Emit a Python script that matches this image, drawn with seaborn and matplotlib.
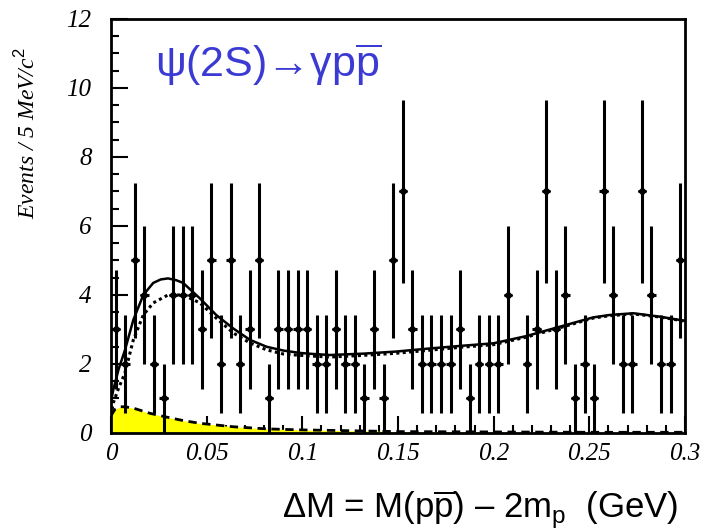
import numpy as np
import pandas as pd
import matplotlib
matplotlib.use("Agg")
import matplotlib.pyplot as plt
import seaborn as sns

# ---- data ----
bin_width = 0.005
counts = [3, 2, 5, 4, 2, 1, 4, 4, 4, 3,
          5, 2, 5, 2, 3, 5, 1, 3, 3, 3,
          3, 2, 2, 3, 2, 2, 1, 3, 1, 5,
          7, 3, 2, 2, 2, 2, 3, 1, 2, 2,
          2, 4, 0, 2, 3, 7, 3, 4, 1, 2,
          1, 7, 4, 2, 2, 7, 4, 2, 2, 5]

total_x = [0.0, 0.0012, 0.004, 0.0073, 0.0117, 0.0169, 0.0221, 0.026, 0.0298, 0.034,
           0.0377, 0.0465, 0.055, 0.0639, 0.0726, 0.0813, 0.090, 0.0988, 0.1057, 0.1144,
           0.132, 0.149, 0.1667, 0.184, 0.2, 0.2172, 0.2346, 0.252, 0.2607, 0.273, 0.287, 0.3]
total_y = [0.9, 1.25, 1.85, 2.4, 3.28, 4.0, 4.35, 4.45, 4.48, 4.43,
           4.35, 3.9, 3.42, 3.03, 2.7, 2.5, 2.39, 2.32, 2.29, 2.26,
           2.3, 2.36, 2.45, 2.53, 2.6, 2.81, 3.08, 3.35, 3.42, 3.47, 3.37, 3.25]

signal_x = [0.0, 0.0012, 0.004, 0.0073, 0.0117, 0.0169, 0.0221, 0.0298, 0.0377, 0.0465,
            0.055, 0.0639, 0.0726, 0.0813, 0.090, 0.0988, 0.1144, 0.132, 0.149, 0.1667,
            0.184, 0.2, 0.2172, 0.2346, 0.252, 0.2607, 0.273, 0.287, 0.3]
signal_y = [0.5, 0.87, 1.3, 1.74, 2.7, 3.42, 3.77, 4.0, 4.0, 3.77,
            3.33, 2.9, 2.61, 2.41, 2.29, 2.25, 2.2, 2.25, 2.31, 2.4,
            2.49, 2.56, 2.78, 3.05, 3.33, 3.4, 3.45, 3.36, 3.24]

bkg_x = [0.0, 0.002, 0.005, 0.0073, 0.0117, 0.0204, 0.0291, 0.0377, 0.0465, 0.064,
         0.081, 0.099, 0.12, 0.15, 0.2, 0.25, 0.3]
bkg_y = [0.5, 0.68, 0.76, 0.76, 0.72, 0.57, 0.46, 0.36, 0.28, 0.18,
         0.12, 0.09, 0.07, 0.04, 0.03, 0.02, 0.02]

x_ticks = [0, 0.05, 0.1, 0.15, 0.2, 0.25, 0.3]
x_tick_labels = ["0", "0.05", "0.1", "0.15", "0.2", "0.25", "0.3"]
y_ticks = [0, 2, 4, 6, 8, 10, 12]
y_tick_labels = ["0", "2", "4", "6", "8", "10", "12"]

title_text = "ψ(2S)→γp" + r"$\overline{\mathrm{p}}$"
xlabel_text = "ΔM = M(p" + r"$\overline{\mathrm{p}}$" + ") – 2m" + r"$_{\mathrm{p}}$" + "  (GeV)"
ylabel_text = r"Events / 5 MeV/c$^{2}$"

# ---- build frames ----
centers = (np.arange(len(counts)) + 0.5) * bin_width
df = pd.DataFrame({"x": centers, "n": counts})
df = df[df["n"] > 0]
df["err"] = np.sqrt(df["n"])

sns.set_theme(style="white")
plt.rcParams["mathtext.fontset"] = "custom"
plt.rcParams["mathtext.rm"] = "Liberation Sans"
plt.rcParams["mathtext.it"] = "Liberation Sans:italic"
plt.rcParams["mathtext.sf"] = "Liberation Sans"

fig = plt.figure(figsize=(7.15, 5.31), dpi=100)
ax = fig.add_axes([0.1552, 0.1846, 0.8028, 0.7797])

# background fill
ax.fill_between(bkg_x, 0, bkg_y, color="#ffff00", lw=0, zorder=1)
sns.lineplot(x=bkg_x, y=bkg_y, ax=ax, color="black", lw=2.0, ls=(0, (3, 2)), sort=False, zorder=2)

# curves
sns.lineplot(x=signal_x, y=signal_y, ax=ax, color="black", lw=2.2, ls=(0, (1, 1.1)), sort=False, zorder=3)
sns.lineplot(x=total_x, y=total_y, ax=ax, color="black", lw=1.8, sort=False, zorder=4)

# data points
ax.errorbar(df["x"], df["n"], yerr=df["err"], xerr=0.0022, fmt="none",
            ecolor="black", elinewidth=2.2, capsize=0, zorder=5)
sns.scatterplot(data=df, x="x", y="n", ax=ax, marker="D", s=22, color="black",
                edgecolor="black", linewidth=0, zorder=6)

ax.set_xlim(0, 0.3)
ax.set_ylim(0, 12)

ax.set_xticks(x_ticks)
ax.set_xticklabels(x_tick_labels)
ax.set_yticks(y_ticks)
ax.set_yticklabels(y_tick_labels)
ax.set_xticks(np.arange(0, 0.3001, 0.01), minor=True)
ax.set_yticks(np.arange(0, 12.001, 0.5), minor=True)

for lab in ax.get_xticklabels() + ax.get_yticklabels():
    lab.set_fontfamily("Liberation Serif")
    lab.set_fontstyle("italic")
    lab.set_fontsize(18)
    lab.set_color("black")

ax.tick_params(axis="both", which="major", direction="in", length=12, width=1.5,
               color="black", bottom=True, left=True, top=False, right=False)
ax.tick_params(axis="both", which="minor", direction="in", length=6, width=1.5,
               color="black", bottom=True, left=True, top=False, right=False)
ax.tick_params(axis="x", which="major", pad=7)
ax.tick_params(axis="y", which="major", pad=14)

for sp in ax.spines.values():
    sp.set_visible(True)
    sp.set_color("black")
    sp.set_linewidth(2.0)

ax.set_ylabel(ylabel_text, fontfamily="Liberation Serif", fontstyle="italic",
              fontsize=17, color="black")
ax.yaxis.set_label_coords(-0.124, 0.725)
ax.set_xlabel(xlabel_text, fontfamily="Liberation Sans", fontsize=25, color="black")
ax.xaxis.set_label_coords(0.643, -0.135)

ax.text(0.0767, 0.889, title_text, transform=ax.transAxes, fontsize=31,
        fontfamily="Liberation Sans", color="#3b3bd4", ha="left", va="center")

ax.set_facecolor("white")
fig.savefig("out.png", dpi=100, facecolor="white")
